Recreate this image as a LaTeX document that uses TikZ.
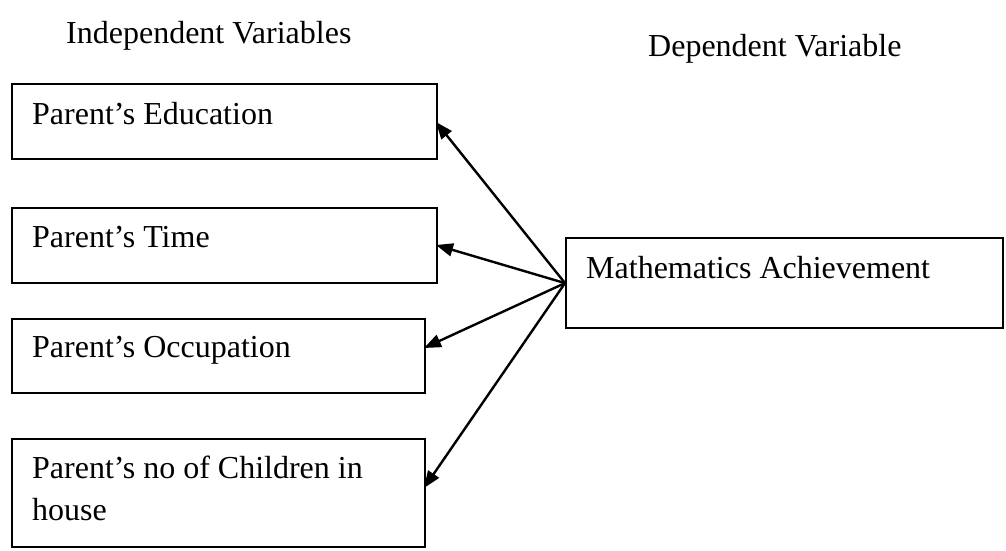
\documentclass[tikz,border=0pt]{standalone}
\usepackage{fontspec}
\setmainfont{Liberation Serif}
\usetikzlibrary{arrows.meta}
\begin{document}
\begin{tikzpicture}[x=1pt,y=-1pt,
  varbox/.style={draw=black,line width=2.2pt,rectangle,inner sep=0pt,anchor=north west},
  vartext/.style={anchor=base west,inner sep=0pt,font=\fontsize{32}{42}\selectfont,align=left},
  head/.style={anchor=base west,inner sep=0pt,font=\fontsize{32}{42}\selectfont},
  link/.style={line width=2.4pt,-{Triangle[length=17pt,width=13pt]}}]
\useasboundingbox (0,0) rectangle (1006,550);
% headings
\node[head] (hind) at (66,43) {Independent Variables};
\node[head] (hdep) at (648,56) {Dependent Variable};
% boxes
\node[varbox,minimum width=425pt,minimum height=75pt] (b1) at (10.5,83) {};
\node[varbox,minimum width=425pt,minimum height=75pt] (b2) at (10.5,207) {};
\node[varbox,minimum width=413pt,minimum height=74pt] (b3) at (10.5,318) {};
\node[varbox,minimum width=413pt,minimum height=108pt] (b4) at (10.5,438) {};
\node[varbox,minimum width=437pt,minimum height=90pt] (dv) at (565,237) {};
% texts
\node[vartext] (t1) at (32,124) {Parent’s Education};
\node[vartext] (t2) at (32,247) {Parent’s Time};
\node[vartext] (t3) at (32,357) {Parent’s Occupation};
\node[vartext] (t4) at (32,520) {Parent’s no of Children in\\house};
\node[vartext] (tdv) at (586,278) {Mathematics Achievement};
% arrow end points
\coordinate (e1) at (436,122);
\coordinate (e2) at (436,245);
\coordinate (e3) at (424,348);
\coordinate (e4) at (424,488);
\draw[link] (dv.west) -- (e1);
\draw[link] (dv.west) -- (e2);
\draw[link] (dv.west) -- (e3);
\draw[link] (dv.west) -- (e4);
\end{tikzpicture}
\end{document}
